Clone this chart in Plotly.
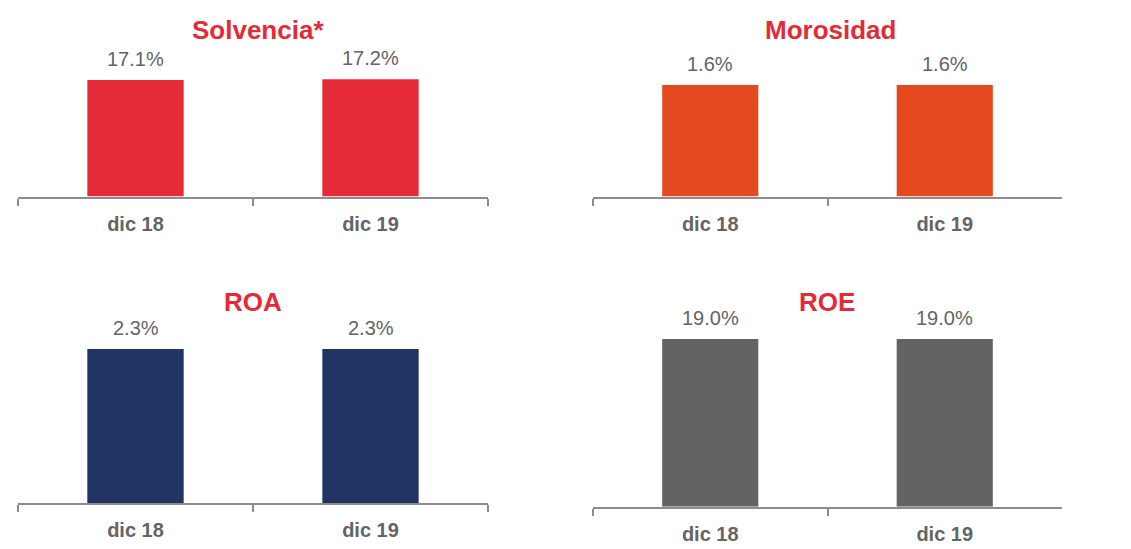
import plotly.graph_objects as go

categories = ["dic 18", "dic 19"]
titles = ["Solvencia*", "Morosidad", "ROA", "ROE"]
solvencia = [17.1, 17.2]
morosidad = [1.6, 1.6]
roa = [2.3, 2.3]
roe = [19.0, 19.0]
series = [solvencia, morosidad, roa, roe]
colors = ["#E52B38", "#E54920", "#223461", "#636363"]

W, H = 1131, 549
OFF = 8  # default page body margin
TITLE_RED = "#E32B37"
TEXT_GRAY = "#646464"
AXIS_GRAY = "#8C8C8C"
FONT = "Liberation Sans, Arial, sans-serif"

def px_x(p):
    return (p - OFF) / W

def px_y(p):
    return 1 - (p - OFF) / H

# panel geometry in page pixels: (x0, x1, y_top, y_bottom, ymax, title_x, title_y)
panels = [
    (18, 488, 60, 196.5, 20.04, 258, 30),
    (593, 1062, 60, 196.5, 1.959, 830, 30),
    (18, 488, 320, 503.3, 2.732, 253, 302),
    (593, 1062, 320, 506.7, 21.15, 827, 302),
]

fig = go.Figure()
layout = dict(
    width=W, height=H,
    margin=dict(l=0, r=0, t=0, b=0),
    paper_bgcolor="white", plot_bgcolor="white",
    showlegend=False,
    font=dict(family=FONT, color=TEXT_GRAY),
)
annotations = []
for i, (vals, col, title, p) in enumerate(zip(series, colors, titles, panels)):
    x0, x1, yt, yb, ymax, tx, ty = p
    sfx = "" if i == 0 else str(i + 1)
    fig.add_trace(go.Bar(
        x=categories, y=vals, marker=dict(color=col, line=dict(width=0)),
        width=0.41, xaxis="x" + sfx, yaxis="y" + sfx, hoverinfo="skip",
    ))
    layout["xaxis" + sfx] = dict(
        domain=[px_x(x0), px_x(x1)], anchor="y" + sfx,
        range=[-0.5, 1.5], showline=True, linecolor=AXIS_GRAY, linewidth=2,
        ticks="outside", tickson="boundaries", ticklen=7, tickwidth=2,
        tickcolor=AXIS_GRAY, showgrid=False, zeroline=False,
        ticklabelstandoff=8,
        tickfont=dict(family=FONT, size=20, color=TEXT_GRAY, weight="bold"),
        fixedrange=True,
    )
    layout["yaxis" + sfx] = dict(
        domain=[px_y(yb), px_y(yt)], anchor="x" + sfx,
        range=[0, ymax], visible=False, fixedrange=True,
    )
    for c, v in zip(categories, vals):
        annotations.append(dict(
            x=c, y=v, xref="x" + sfx, yref="y" + sfx,
            text=f"{v:.1f}%", showarrow=False, yanchor="bottom", yshift=8,
            font=dict(family=FONT, size=20, color=TEXT_GRAY),
        ))
    annotations.append(dict(
        x=px_x(tx), y=px_y(ty), xref="paper", yref="paper",
        text=f"<b>{title}</b>", showarrow=False, xanchor="center", yanchor="middle",
        font=dict(family=FONT, size=26, color=TITLE_RED),
    ))
layout["annotations"] = annotations
fig.update_layout(**layout)
fig.write_html("out.html")
